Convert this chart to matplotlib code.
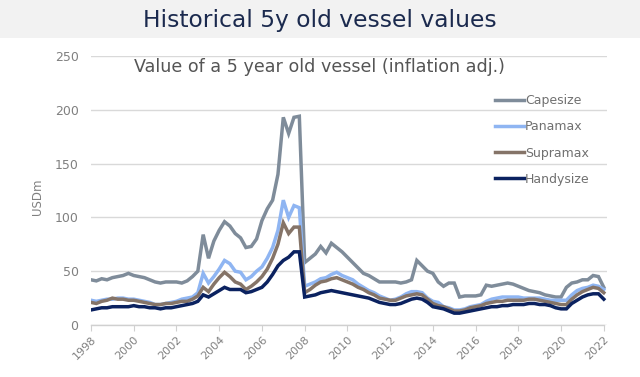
import numpy as np
import matplotlib
matplotlib.use("Agg")
import matplotlib.pyplot as plt
from matplotlib.patches import Rectangle

# Quarterly dates 1998.00 .. 2022.00
dates = np.arange(1998.0, 2022.01, 0.25)

capesize = [
    42, 41, 43, 42,
    44, 45, 46, 48,
    46, 45, 44, 42,
    40, 39, 40, 40,
    40, 39, 41, 45,
    50, 84, 62, 78,
    88, 96, 92, 85,
    81, 72, 73, 80,
    97, 108, 116, 140,
    193, 178, 193, 194,
    58, 62, 66, 73,
    67, 76, 72, 68,
    63, 58, 53, 48,
    46, 43, 40, 40,
    40, 40, 39, 40,
    42, 60, 55, 50,
    48, 40, 36, 39,
    39, 26, 27, 27,
    27, 28, 37, 36,
    37, 38, 39, 38,
    36, 34, 32, 31,
    30, 28, 27, 26,
    26, 35, 39, 40,
    42, 42, 46, 45,
    35,
]

panamax = [
    23, 22, 23, 24,
    24, 25, 25, 24,
    24, 23, 22, 21,
    19, 19, 20, 21,
    22, 24, 25, 26,
    30, 48, 39, 45,
    52, 60, 57, 50,
    49, 42, 45, 50,
    54, 62, 72, 88,
    116, 100, 111, 109,
    36, 38, 40, 43,
    44, 47, 49, 46,
    44, 42, 38, 35,
    32, 30, 27, 25,
    23, 24, 26, 29,
    31, 31, 30, 25,
    22, 21, 17, 16,
    14, 14, 15, 17,
    18, 19, 22, 24,
    25, 26, 26, 26,
    26, 25, 25, 25,
    25, 24, 23, 23,
    23, 23, 28, 32,
    34, 35, 37, 36,
    33,
]

supramax = [
    21, 20, 22, 23,
    25, 24, 24, 23,
    23, 22, 21, 20,
    19, 19, 20, 20,
    21, 22, 22, 24,
    27, 35, 31, 38,
    44, 49, 45, 40,
    38, 33, 36, 40,
    45, 52, 62, 75,
    95, 85, 91, 91,
    30, 33, 37, 40,
    41, 43, 44, 42,
    40, 38, 35, 33,
    30, 28, 25, 24,
    23, 23, 25, 27,
    28, 29, 28, 24,
    20, 18, 17, 15,
    13, 13, 14, 16,
    17, 18, 20, 21,
    22, 22, 23, 23,
    23, 23, 24, 24,
    23, 22, 21, 20,
    19, 19, 24, 28,
    31, 33, 35, 34,
    30,
]

handysize = [
    14, 15, 16, 16,
    17, 17, 17, 17,
    18, 17, 17, 16,
    16, 15, 16, 16,
    17, 18, 19, 20,
    22, 28, 26, 29,
    32, 35, 33, 33,
    33, 30, 31, 33,
    35, 40, 47, 55,
    60, 63, 68, 68,
    26, 27, 28, 30,
    31, 32, 31, 30,
    29, 28, 27, 26,
    25, 23, 21, 20,
    19, 19, 20, 22,
    24, 25, 24, 21,
    17, 16, 15, 13,
    11, 11, 12, 13,
    14, 15, 16, 17,
    17, 18, 18, 19,
    19, 19, 20, 20,
    19, 19, 18, 16,
    15, 15, 20, 23,
    26, 28, 29, 29,
    24,
]

series_names = ["Capesize", "Panamax", "Supramax", "Handysize"]
series_colors = ["#7f8c9a", "#8fb5f2", "#857468", "#0b2260"]
year_ticks = list(range(1998, 2023, 2))
y_ticks = [0, 50, 100, 150, 200, 250]

W, H = 640, 377
fig = plt.figure(figsize=(6.4, 3.77), dpi=100)

# Title band
fig.patches.append(Rectangle((0, 1 - 38 / H), 1, 38 / H, transform=fig.transFigure,
                             facecolor="#f2f2f2", edgecolor="none", zorder=0))
fig.text(0.5, 1 - 20 / H, "Historical 5y old vessel values", ha="center", va="center",
         fontsize=16.8, color="#1b2a4e")
fig.text(0.499, 1 - 67 / H, "Value of a 5 year old vessel (inflation adj.)", ha="center",
         va="center", fontsize=12.6, color="#555555")

ax = fig.add_axes([91 / W, 1 - 325 / H, (607 - 91) / W, (325 - 56) / H])
for name, vals, col in zip(series_names, [capesize, panamax, supramax, handysize], series_colors):
    ax.plot(dates, vals, color=col, lw=2.5, label=name, solid_joinstyle="miter")

ax.set_xlim(1998, 2022.15)
ax.set_ylim(0, 250)
ax.set_yticks(y_ticks)
ax.set_xticks(year_ticks)
ax.set_xticklabels([str(y) for y in year_ticks], rotation=45, ha="right",
                   rotation_mode="anchor", fontsize=8, color="#808080")
ax.tick_params(axis="y", length=0, pad=9, labelsize=9, labelcolor="#808080")
ax.tick_params(axis="x", length=4, color="#d0d0d0", pad=3)
ax.grid(axis="y", color="#d9d9d9", lw=1)
ax.set_axisbelow(True)
for s in ["left", "right", "top"]:
    ax.spines[s].set_visible(False)
ax.spines["bottom"].set_color("#d0d0d0")
ax.spines["bottom"].set_linewidth(1)
ax.spines["bottom"].set_bounds(1998, 2022)

fig.text(38 / W, 1 - 197 / H, "USDm", rotation=90, ha="center", va="center",
         fontsize=8.5, color="#808080")

leg = ax.legend(loc="upper left", bbox_to_anchor=(489 / W, 1 - 88 / H),
                bbox_transform=fig.transFigure, frameon=False, fontsize=9,
                handlelength=2.3, handletextpad=0.1, labelspacing=1.05, borderpad=0)
for t in leg.get_texts():
    t.set_color("#707070")
for l in leg.get_lines():
    l.set_linewidth(2.5)

fig.savefig("out.png", dpi=100)
